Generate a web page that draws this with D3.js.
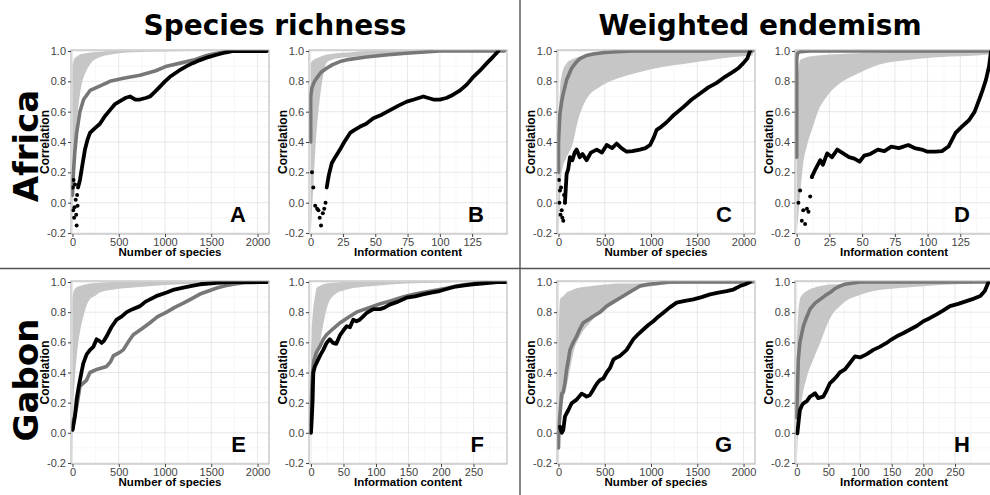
<!DOCTYPE html>
<html>
<head>
<meta charset="utf-8">
<script src="https://cdn.jsdelivr.net/npm/d3@7"></script>
<style>
body{margin:0;background:#fff;}
svg{display:block;}
.tick text{font-family:"Liberation Sans",Arial,sans-serif;font-size:11px;fill:#444;}
.tick line{stroke:#444;}
</style>
</head>
<body>
<svg id="chart" width="990" height="495"></svg>
<script>
// ---- data ----
// A: Africa, species richness vs number of species
var A_bandX=[0,10,20,40,60,100,150,200,300,400,600,1000,1500,2100];
var A_bandLo=[-0.2,0.1,0.3,0.5,0.62,0.78,0.87,0.92,0.96,0.975,0.99,0.997,1,1];
var A_bandHi=[0.9,0.93,0.95,0.96,0.97,0.98,0.985,0.99,0.995,1,1,1,1,1];
var A_greyX=[0,10,25,45,80,120,190,300,405,550,730,900,1018,1200,1306,1450,1522,1650,1740,2100];
var A_greyY=[0.05,0.2,0.33,0.46,0.6,0.68,0.74,0.77,0.8,0.82,0.84,0.87,0.9,0.925,0.94,0.97,0.98,0.995,1,1];
var A_dotX=[3,8,12,18,22,27,35,40,45,50,55];
var A_dotY=[0.1,-0.05,0.15,-0.1,-0.03,0.12,0.02,-0.08,-0.15,0.05,-0.02];
var A_blkX=[60,81,110,135,160,189,240,297,350,405,460,514,570,622,680,730,790,838,890,946,1000,1054,1150,1234,1300,1378,1470,1559,1650,1740,2100];
var A_blkY=[0.1,0.15,0.26,0.35,0.41,0.46,0.49,0.52,0.57,0.61,0.65,0.67,0.69,0.7,0.68,0.68,0.69,0.7,0.73,0.765,0.8,0.83,0.87,0.9,0.92,0.94,0.96,0.975,0.99,1,1];

// B: Africa, species richness vs information content
var B_bandX=[0,2,4,7,10,12,16,20,30,43,60,100,150];
var B_bandLo=[-0.2,0.1,0.4,0.68,0.85,0.92,0.94,0.95,0.96,0.97,0.98,0.995,1];
var B_bandHi=[0.92,0.94,0.95,0.96,0.97,0.975,0.98,0.985,0.99,1,1,1,1];
var B_greyX=[0,0,1,3,4.6,8,12.4,17,22.7,30,43,60,74,100,150];
var B_greyY=[0.4,0.7,0.76,0.8,0.82,0.86,0.886,0.91,0.93,0.945,0.96,0.975,0.985,1,1];
var B_dotX=[1,2,3.5,5,6,7,8,9.4,10.5,11.5];
var B_dotY=[0.2,0.1,-0.02,-0.04,-0.05,-0.1,-0.15,-0.07,-0.04,0.0];
var B_blkX=[12.4,14,16.3,19,22.7,26,30.5,34,38,43,48.5,55,61.5,68,74.4,80,87.3,91,95,100,105,110,115.7,121,126,131,136.4,141,145.4];
var B_blkY=[0.1,0.18,0.26,0.3,0.35,0.4,0.46,0.48,0.5,0.52,0.556,0.58,0.61,0.64,0.666,0.68,0.7,0.69,0.68,0.68,0.69,0.71,0.74,0.78,0.83,0.87,0.92,0.96,1];

// C: Africa, weighted endemism vs number of species
var C_bandX=[0,16,35,88,150,214,300,449,600,809,1000,1169,1350,1530,1700,1890,2100];
var C_bandLo=[-0.2,0.0,0.2,0.3,0.38,0.55,0.68,0.765,0.81,0.85,0.88,0.9,0.915,0.93,0.945,0.96,0.97];
var C_bandHi=[0.5,0.74,0.84,0.92,0.945,0.96,0.97,0.98,0.99,0.995,1,1,1,1,1,1,1];
var C_greyX=[0,0,16,35,52,88,142,190,232,300,376,500,630,800,2100];
var C_greyY=[0.2,0.4,0.59,0.67,0.72,0.81,0.886,0.925,0.95,0.97,0.98,0.99,0.995,1,1];
var C_dotX=[5,10,16,22,28,35,42,52,60,70];
var C_dotY=[0.15,0.0,0.08,-0.08,0.1,-0.05,-0.1,-0.12,0.05,0.0];
var C_blkX=[70,88,105,124,150,175,196,230,260,304,350,413,470,521,580,629,680,737,800,881,940,989,1030,1061,1110,1169,1250,1349,1440,1530,1620,1710,1800,1890,1950,1998,2040,2070];
var C_blkY=[0.0,0.19,0.22,0.3,0.28,0.33,0.35,0.3,0.32,0.28,0.33,0.35,0.33,0.38,0.36,0.39,0.36,0.336,0.34,0.35,0.36,0.38,0.43,0.48,0.5,0.53,0.58,0.63,0.68,0.72,0.76,0.79,0.83,0.864,0.89,0.92,0.95,1];

// D: Africa, weighted endemism vs information content
var D_bandX=[0,2.6,5,8,11.6,16.7,23,33.6,46.5,59.4,85,111,137,150];
var D_bandLo=[-0.2,0.05,0.26,0.38,0.48,0.61,0.7,0.79,0.85,0.9,0.94,0.96,0.97,0.98];
var D_bandHi=[0.7,0.94,0.95,0.96,0.965,0.97,0.975,0.98,0.985,0.99,0.995,1,1,1];
var D_greyX=[0,0,0.5,2.6,10,150];
var D_greyY=[0.3,0.95,0.985,0.995,1,1];
var D_dotX=[1.3,2.6,3.9,5,6.4,7.8,9,10.3,11.6];
var D_dotY=[0.0,0.08,-0.12,-0.05,-0.14,-0.04,-0.06,0.04,0.17];
var D_blkX=[11.6,14.3,18,20,23.3,27,31,36.4,40,44,48,51.6,56,62,67,72.3,78,85.3,90,95.6,100,106,111,116,121.4,126,131.8,136,139.5,142,144.6,147,148.5];
var D_blkY=[0.17,0.22,0.28,0.25,0.325,0.3,0.35,0.32,0.3,0.29,0.27,0.31,0.32,0.35,0.34,0.37,0.36,0.38,0.36,0.35,0.336,0.336,0.34,0.37,0.46,0.5,0.545,0.6,0.68,0.74,0.81,0.9,1];

// E: Gabon, species richness vs number of species
var E_bandX=[0,9,27,45,63,90,117,150,189,250,297,450,657,1000,1378,2100];
var E_bandLo=[-0.18,0.15,0.37,0.5,0.6,0.7,0.77,0.84,0.885,0.91,0.93,0.95,0.963,0.98,0.99,1];
var E_bandHi=[0.88,0.93,0.955,0.965,0.97,0.975,0.98,0.985,0.99,0.993,0.995,1,1,1,1,1];
var E_greyX=[0,9,27,45,63,81,117,153,189,225,261,315,369,410,441,500,549,600,657,750,838,920,1018,1100,1198,1290,1378,1470,1559,1650,1740,1850,2100];
var E_greyY=[0.02,0.08,0.12,0.17,0.24,0.31,0.33,0.35,0.4,0.41,0.42,0.43,0.44,0.47,0.51,0.53,0.55,0.6,0.65,0.69,0.73,0.77,0.8,0.83,0.86,0.89,0.92,0.94,0.96,0.975,0.985,0.995,1];
var E_dotX=[];
var E_dotY=[];
var E_blkX=[2,10,27,45,63,81,100,117,135,153,190,225,261,290,315,340,369,420,477,530,586,650,730,790,838,920,1018,1100,1198,1290,1378,1470,1559,1650,1740,2100];
var E_blkY=[0.02,0.05,0.11,0.22,0.29,0.35,0.41,0.46,0.49,0.52,0.55,0.57,0.62,0.61,0.596,0.61,0.64,0.7,0.75,0.77,0.8,0.82,0.84,0.87,0.885,0.91,0.93,0.95,0.963,0.975,0.985,0.99,0.995,0.998,1,1];

// F: Gabon, species richness vs information content
var F_bandX=[0,1,3.5,6.1,8.7,14,19,24,34,55,96,147,200,250,300];
var F_bandLo=[-0.2,0.15,0.28,0.37,0.45,0.6,0.72,0.82,0.907,0.95,0.973,0.99,0.995,1,1];
var F_bandHi=[0.5,0.65,0.82,0.9,0.96,0.975,0.985,0.99,0.995,1,1,1,1,1,1];
var F_greyX=[0,1,2.5,4.6,8,14,19,24,34,45,57,70,83,96,108,121,134,147,160,172,185,198,210,223,236,249,265,280,300];
var F_greyY=[0.05,0.27,0.4,0.48,0.53,0.575,0.62,0.65,0.69,0.73,0.765,0.8,0.82,0.84,0.857,0.873,0.89,0.907,0.92,0.93,0.94,0.95,0.96,0.973,0.982,0.99,0.996,1,1];
var F_dotX=[];
var F_dotY=[];
var F_blkX=[0,1,2.6,3.6,6,11,15,19,24,29,34,39,45,50,55,60,65,70,75,80,86,96,106,113,121,134,147,160,172,185,198,210,223,236,249,262,274,287,300];
var F_blkY=[0,0.07,0.22,0.4,0.44,0.485,0.52,0.55,0.596,0.62,0.596,0.59,0.65,0.68,0.707,0.7,0.75,0.74,0.75,0.77,0.796,0.82,0.82,0.83,0.85,0.87,0.896,0.905,0.918,0.93,0.94,0.955,0.97,0.978,0.985,0.99,0.995,1,1];

// G: Gabon, weighted endemism vs number of species
var G_bandX=[0,16,52,88,124,160,232,340,449,540,629,720,809,1000,1169,1500,1890,2100];
var G_bandLo=[-0.2,0.085,0.22,0.31,0.42,0.53,0.64,0.73,0.796,0.84,0.885,0.92,0.95,0.97,0.985,0.99,0.99,1];
var G_bandHi=[0.6,0.885,0.905,0.93,0.94,0.95,0.963,0.972,0.98,0.985,0.99,0.99,0.99,0.995,1,1,1,1];
var G_greyX=[0,5,20,35,52,70,88,106,124,160,196,232,268,320,376,450,521,600,701,790,881,970,1061,1200,2100];
var G_greyY=[-0.1,0.04,0.15,0.26,0.27,0.33,0.42,0.48,0.55,0.6,0.64,0.69,0.73,0.75,0.773,0.8,0.84,0.87,0.907,0.94,0.973,0.985,0.99,1,1];
var G_dotX=[];
var G_dotY=[];
var G_blkX=[16,35,52,70,88,106,142,196,250,280,304,340,370,395,420,449,485,521,557,593,629,665,701,737,773,809,863,917,971,1025,1079,1133,1200,1277,1367,1458,1548,1638,1728,1818,1890,1962,2020,2070];
var G_blkY=[0.04,0,0.02,0.107,0.13,0.15,0.196,0.22,0.26,0.25,0.24,0.25,0.28,0.307,0.33,0.35,0.36,0.4,0.43,0.485,0.5,0.51,0.53,0.55,0.585,0.62,0.655,0.685,0.715,0.74,0.77,0.796,0.83,0.863,0.875,0.885,0.9,0.918,0.93,0.94,0.95,0.973,0.985,1];

// H: Gabon, weighted endemism vs information content
var H_bandX=[0,2.6,5,8,16,26,37,47,58,68,80,95,121,150,174,226,279,310];
var H_bandLo=[-0.2,0.04,0.13,0.22,0.37,0.485,0.596,0.707,0.796,0.84,0.88,0.907,0.94,0.955,0.963,0.98,0.99,0.995];
var H_bandHi=[0.6,0.8,0.885,0.91,0.94,0.96,0.973,0.98,0.985,0.985,0.99,0.995,1,1,1,1,1,1];
var H_greyX=[0,1,2.6,5,10.5,16,21,29,37,45,52.6,60,68,76,84,100,310];
var H_greyY=[0.1,0.27,0.49,0.6,0.707,0.77,0.82,0.86,0.885,0.91,0.93,0.955,0.973,0.985,0.99,1,1];
var H_dotX=[];
var H_dotY=[];
var H_blkX=[1,2.6,5,8,10.5,16,21,25,29,34,38,42,47,52.6,58,63,68,76,84,92,100,110,121,131,142,150,158,168,179,190,200,210,221,231,242,255,268,280,290,297,303];
var H_blkY=[-0.004,0.06,0.15,0.18,0.196,0.21,0.24,0.25,0.263,0.23,0.235,0.24,0.28,0.33,0.35,0.373,0.4,0.42,0.463,0.507,0.5,0.52,0.55,0.57,0.596,0.62,0.64,0.66,0.685,0.71,0.74,0.76,0.785,0.81,0.84,0.855,0.873,0.89,0.907,0.94,1];

var yTicks=[-0.2,0,0.2,0.4,0.6,0.8,1.0];
var ticksSpecies=[0,500,1000,1500,2000];
var ticksInfoA=[0,25,50,75,100,125];
var ticksInfoG=[0,50,100,150,200,250];
var sectionTitles=["Species richness","Weighted endemism"];
var rowTitles=["Africa","Gabon"];
var xTitles=["Number of species","Information content"];

// ---- layout ----
var svg=d3.select("#chart");
var colLeft=[71,309,557,795];
var panelW=198;
var rowTop=[50,281];
var rowBottom=[234,464];

var panels=[
 {id:"A",col:0,row:0,xd:[-16,2124],ticks:ticksSpecies,xt:0,band:[A_bandX,A_bandLo,A_bandHi],grey:[A_greyX,A_greyY],dots:[A_dotX,A_dotY],blk:[A_blkX,A_blkY]},
 {id:"B",col:1,row:0,xd:[-1.3,152],ticks:ticksInfoA,xt:1,band:[B_bandX,B_bandLo,B_bandHi],grey:[B_greyX,B_greyY],dots:[B_dotX,B_dotY],blk:[B_blkX,B_blkY]},
 {id:"C",col:2,row:0,xd:[-16,2124],ticks:ticksSpecies,xt:0,band:[C_bandX,C_bandLo,C_bandHi],grey:[C_greyX,C_greyY],dots:[C_dotX,C_dotY],blk:[C_blkX,C_blkY]},
 {id:"D",col:3,row:0,xd:[-1.3,150],ticks:ticksInfoA,xt:1,band:[D_bandX,D_bandLo,D_bandHi],grey:[D_greyX,D_greyY],dots:[D_dotX,D_dotY],blk:[D_blkX,D_blkY]},
 {id:"E",col:0,row:1,xd:[-16,2124],ticks:ticksSpecies,xt:0,band:[E_bandX,E_bandLo,E_bandHi],grey:[E_greyX,E_greyY],dots:[E_dotX,E_dotY],blk:[E_blkX,E_blkY]},
 {id:"F",col:1,row:1,xd:[-3,301.5],ticks:ticksInfoG,xt:1,band:[F_bandX,F_bandLo,F_bandHi],grey:[F_greyX,F_greyY],dots:[F_dotX,F_dotY],blk:[F_blkX,F_blkY]},
 {id:"G",col:2,row:1,xd:[-16,2124],ticks:ticksSpecies,xt:0,band:[G_bandX,G_bandLo,G_bandHi],grey:[G_greyX,G_greyY],dots:[G_dotX,G_dotY],blk:[G_blkX,G_blkY]},
 {id:"H",col:3,row:1,xd:[-2.7,310],ticks:ticksInfoG,xt:1,band:[H_bandX,H_bandLo,H_bandHi],grey:[H_greyX,H_greyY],dots:[H_dotX,H_dotY],blk:[H_blkX,H_blkY]}
];

var zip=function(xs,ys){return xs.map(function(x,i){return [x,ys[i]];});};
var mid=function(t){var m=[];for(var i=0;i<t.length;i++){var s=t[1]-t[0];m.push(t[i]+s/2);}m.unshift(t[0]-(t[1]-t[0])/2);return m;};

panels.forEach(function(p){
  var left=colLeft[p.col], right=left+panelW;
  var top=rowTop[p.row], bottom=rowBottom[p.row];
  var x=d3.scaleLinear().domain(p.xd).range([left,right]);
  var y=d3.scaleLinear().domain([-0.2,1.0]).range([bottom-1,top+1]);
  var g=svg.append("g");

  g.append("clipPath").attr("id","clip"+p.id)
   .append("rect").attr("x",left).attr("y",top).attr("width",panelW).attr("height",bottom-top);

  // grid
  var grid=g.append("g");
  var yMinor=mid(yTicks).filter(function(v){return v>-0.21&&v<1.01;});
  var xMinor=mid(p.ticks).filter(function(v){return v>p.xd[0]&&v<p.xd[1];});
  grid.selectAll(".ymin").data(yMinor).enter().append("line")
   .attr("x1",left).attr("x2",right).attr("y1",y).attr("y2",y)
   .attr("stroke","#f1f1f1").attr("stroke-width",0.6);
  grid.selectAll(".xmin").data(xMinor).enter().append("line")
   .attr("y1",top).attr("y2",bottom).attr("x1",x).attr("x2",x)
   .attr("stroke","#f1f1f1").attr("stroke-width",0.6);
  grid.selectAll(".ymaj").data(yTicks).enter().append("line")
   .attr("x1",left).attr("x2",right).attr("y1",y).attr("y2",y)
   .attr("stroke","#e2e2e2").attr("stroke-width",0.8);
  grid.selectAll(".xmaj").data(p.ticks).enter().append("line")
   .attr("y1",top).attr("y2",bottom).attr("x1",x).attr("x2",x)
   .attr("stroke","#e2e2e2").attr("stroke-width",0.8);

  var marks=g.append("g").attr("clip-path","url(#clip"+p.id+")");

  // band of random runs
  var band=p.band[0].map(function(v,i){return {x:v,lo:p.band[1][i],hi:p.band[2][i]};});
  marks.append("path").datum(band)
   .attr("fill","#c6c6c6")
   .attr("d",d3.area().x(function(d){return x(d.x);}).y0(function(d){return y(d.lo);}).y1(function(d){return y(d.hi);}).curve(d3.curveMonotoneX));

  var line=d3.line().x(function(d){return x(d[0]);}).y(function(d){return y(d[1]);});

  marks.append("path").datum(zip(p.grey[0],p.grey[1]))
   .attr("fill","none").attr("stroke","#777").attr("stroke-width",3.6)
   .attr("stroke-linejoin","round").attr("stroke-linecap","round")
   .attr("d",line);

  marks.selectAll(".dot").data(zip(p.dots[0],p.dots[1])).enter().append("circle")
   .attr("cx",function(d){return x(d[0]);}).attr("cy",function(d){return y(d[1]);})
   .attr("r",2).attr("fill","#000");

  marks.append("path").datum(zip(p.blk[0],p.blk[1]))
   .attr("fill","none").attr("stroke","#000").attr("stroke-width",3.8)
   .attr("stroke-linejoin","round").attr("stroke-linecap","round")
   .attr("d",line);

  // border
  g.append("rect").attr("x",left).attr("y",top).attr("width",panelW).attr("height",bottom-top)
   .attr("fill","none").attr("stroke","#b0b0b0").attr("stroke-width",1);

  // axes
  var yAxis=d3.axisLeft(y).tickValues(yTicks).tickSize(3).tickPadding(2)
    .tickFormat(function(d){return d.toFixed(1);});
  var xAxis=d3.axisBottom(x).tickValues(p.ticks).tickSize(3).tickPadding(1)
    .tickFormat(function(d){return d;});
  g.append("g").attr("transform","translate("+left+",0)").call(yAxis)
   .call(function(s){s.select(".domain").remove();});
  g.append("g").attr("transform","translate(0,"+bottom+")").call(xAxis)
   .call(function(s){s.select(".domain").remove();});

  // axis titles
  g.append("text").attr("transform","translate("+(left-22)+","+((top+bottom)/2)+") rotate(-90)")
   .attr("text-anchor","middle").style("font-family","Liberation Sans, Arial, sans-serif")
   .style("font-size","12px").style("font-weight","bold").text("Correlation");
  g.append("text").attr("x",(left+right)/2).attr("y",bottom+22)
   .attr("text-anchor","middle").style("font-family","Liberation Sans, Arial, sans-serif")
   .style("font-size","11.5px").style("font-weight","bold").text(xTitles[p.xt]);

  // panel letter
  g.append("text").attr("x",right-23).attr("y",bottom-12).attr("text-anchor","end")
   .style("font-family","Liberation Sans, Arial, sans-serif").style("font-size","22px")
   .style("font-weight","bold").text(p.id);
});

// section and row titles
svg.selectAll(".sect").data(sectionTitles).enter().append("text")
 .attr("x",function(d,i){return [275,760][i];}).attr("y",35)
 .attr("text-anchor","middle").style("font-family","DejaVu Sans, Verdana, sans-serif")
 .style("font-size","28px").style("font-weight","bold").text(function(d){return d;});
svg.selectAll(".rowt").data(rowTitles).enter().append("text")
 .attr("transform",function(d,i){return "translate(38,"+[146,380][i]+") rotate(-90)";})
 .attr("text-anchor","middle").style("font-family","DejaVu Sans, Verdana, sans-serif")
 .style("font-size","34px").style("font-weight","bold").text(function(d){return d;});

// separators
svg.append("line").attr("x1",520).attr("x2",520).attr("y1",0).attr("y2",495)
 .attr("stroke","#555").attr("stroke-width",1.4);
svg.append("line").attr("x1",0).attr("x2",990).attr("y1",268.5).attr("y2",268.5)
 .attr("stroke","#555").attr("stroke-width",1.4);
</script>
</body>
</html>
